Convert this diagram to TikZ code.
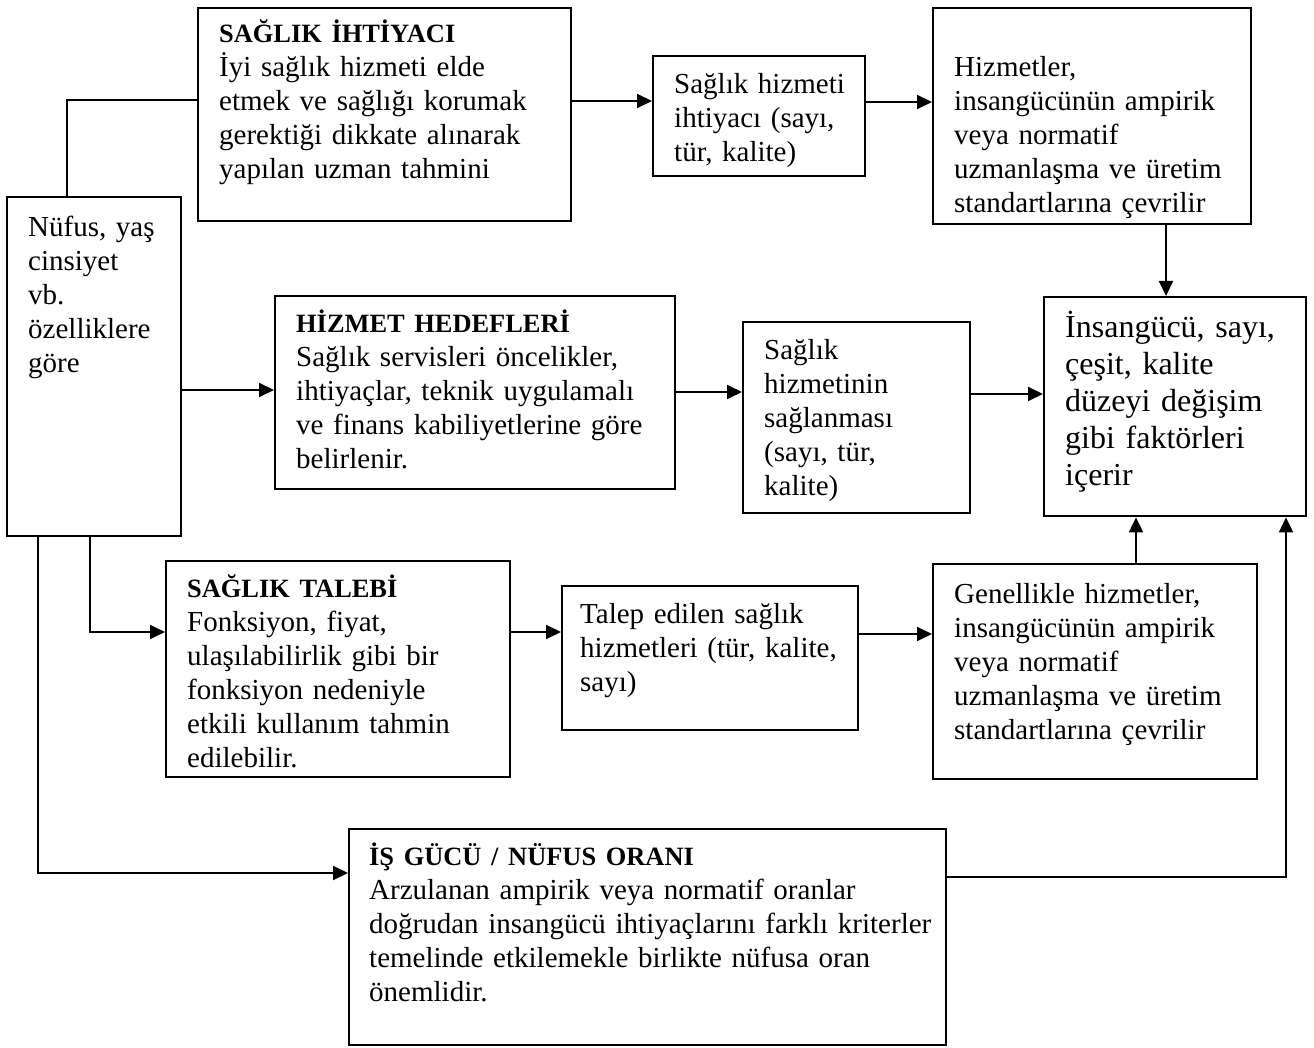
\documentclass[tikz,border=0pt]{standalone}
\usepackage{fontspec}
\setmainfont{Liberation Serif}
\usepackage{tikz}
\usetikzlibrary{arrows.meta, calc, positioning}

\newcommand{\govde}{\fontsize{14.5}{17}\selectfont}
\newcommand{\baslik}{\fontsize{13.2}{17}\selectfont\bfseries}
\newcommand{\iri}{\fontsize{16}{18.5}\selectfont}

\begin{document}
\begin{tikzpicture}[
		x=0.5pt, y=-0.5pt,
		kutu/.style={draw, line width=1.2pt, anchor=north west, inner xsep=10.5pt, inner ysep=0pt, align=left, font=\govde,
			execute at begin node={\rightskip=0pt plus 1fil minus 20pt\relax}},
		hat/.style={line width=1pt},
		ok/.style={-{Triangle[length=7.5pt, width=7pt]}, line width=1pt}
		]
	\useasboundingbox (0,0) rectangle (1314,1048);

		% --- Sol kutu ---
		\node[kutu, text width=66pt, text height=19.5pt, text depth=150pt] (nufus) at (6,196) {Nüfus, yaş\\ cinsiyet\\ vb.\\ özelliklere\\ göre};

		% --- Üst sıra ---
		\node[kutu, text width=165.5pt, text height=17pt, text depth=89.5pt] (sh) at (197,7) {{\baslik SAĞLIK İHTİYACI}\\ İyi sağlık hizmeti elde\\ etmek ve sağlığı korumak\\ gerektiği dikkate alınarak\\ yapılan uzman tahmini};
		\node[kutu, text width=85pt, text height=18.5pt, text depth=41.5pt] (shi) at (652,55) {Sağlık hizmeti\\ ihtiyacı (sayı,\\ tür, kalite)};
		\node[kutu, text width=138pt, text height=34pt, text depth=74pt] (hz) at (932,7) {Hizmetler,\\ insangücünün ampirik\\ veya normatif\\ uzmanlaşma ve üretim\\ standartlarına çevrilir};

		% --- Orta sıra ---
		\node[kutu, text width=179pt, text height=18pt, text depth=78.5pt] (hh) at (274,295) {{\baslik HİZMET HEDEFLERİ}\\ Sağlık servisleri öncelikler,\\ ihtiyaçlar, teknik uygulamalı\\ ve finans kabiliyetlerine göre\\ belirlenir.};
		\node[kutu, text width=92.5pt, text height=18.5pt, text depth=77pt] (shs) at (742,321) {Sağlık\\ hizmetinin\\ sağlanması\\ (sayı, tür,\\ kalite)};
		\node[kutu, font=\iri, text width=110pt, text height=20pt, text depth=89.5pt] (ig) at (1043,296) {İnsangücü, sayı,\\ çeşit, kalite\\ düzeyi değişim\\ gibi faktörleri\\ içerir};

		% --- Alt sıra ---
		\node[kutu, text width=151pt, text height=18pt, text depth=90pt] (st) at (165,560) {{\baslik SAĞLIK TALEBİ}\\ Fonksiyon, fiyat,\\ ulaşılabilirlik gibi bir\\ fonksiyon nedeniyle\\ etkili kullanım tahmin\\ edilebilir.};
		\node[kutu, inner xsep=9pt, text width=130pt, text height=18.5pt, text depth=53.5pt] (te) at (561,585) {Talep edilen sağlık\\ hizmetleri (tür, kalite,\\ sayı)};
		\node[kutu, text width=141pt, text height=19.5pt, text depth=88pt] (gn) at (932,563) {Genellikle hizmetler,\\ insangücünün ampirik\\ veya normatif\\ uzmanlaşma ve üretim\\ standartlarına çevrilir};

		% --- En alt ---
		\node[kutu, inner xsep=10pt, text width=278.5pt, text height=18pt, text depth=90pt] (is) at (348,828) {{\baslik İŞ GÜCÜ / NÜFUS ORANI}\\ Arzulanan ampirik veya normatif oranlar\\ doğrudan insangücü ihtiyaçlarını farklı kriterler\\ temelinde etkilemekle birlikte nüfusa oran\\ önemlidir.};

		% Bağlantılar
		\draw[hat] (nufus.north -| 67,0) |- (sh.west |- 0,100);
		\draw[ok] (sh.east |- 0,101) -- (shi.west |- 0,101);
		\draw[ok] (shi.east |- 0,102) -- (hz.west |- 0,102);
		\draw[ok] (hz.south -| 1166,0) -- (ig.north -| 1166,0);
		\draw[ok] (nufus.east |- 0,390) -- (hh.west |- 0,390);
		\draw[ok] (hh.east |- 0,392) -- (shs.west |- 0,392);
		\draw[ok] (shs.east |- 0,394) -- (ig.west |- 0,394);
		\draw[ok] (nufus.south -| 90,0) |- (st.west |- 0,632);
		\draw[ok] (st.east |- 0,632) -- (te.west |- 0,632);
		\draw[ok] (te.east |- 0,634) -- (gn.west |- 0,634);
		\draw[ok] (gn.north -| 1136,0) -- (ig.south -| 1136,0);
		\draw[ok] (nufus.south -| 38,0) |- (is.west |- 0,873);
		\draw[ok] (is.east |- 0,877) -| (ig.south -| 1286,0);

	\end{tikzpicture}
\end{document}
